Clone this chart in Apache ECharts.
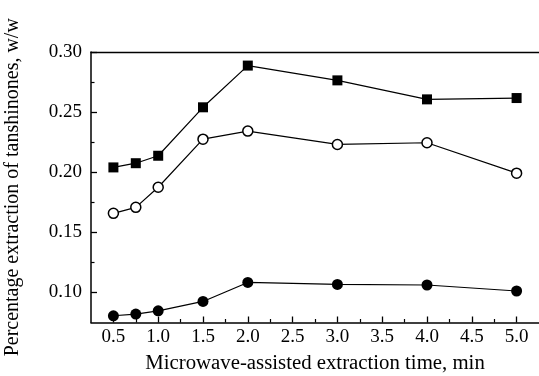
<!DOCTYPE html>
<html>
<head>
<meta charset="utf-8">
<script src="https://cdn.jsdelivr.net/npm/echarts@6/dist/echarts.min.js"></script>
<style>html,body{margin:0;padding:0;background:#fff}#c{width:539px;height:376px}</style>
</head>
<body>
<div id="c"></div>
<script>
// Data
const times = [0.5, 0.75, 1.0, 1.5, 2.0, 3.0, 4.0, 5.0];
const squares = [0.204, 0.2075, 0.2137, 0.254, 0.2887, 0.2764, 0.2606, 0.2617];
const openCircles = [0.1658, 0.1708, 0.1875, 0.2275, 0.2342, 0.2231, 0.2245, 0.1992];
const filledCircles = [0.0806, 0.082, 0.0847, 0.0925, 0.1083, 0.1067, 0.1062, 0.1012];
const xMajorTicks = [0.5, 1.0, 1.5, 2.0, 2.5, 3.0, 3.5, 4.0, 4.5, 5.0];
const xMinorTicks = [0.75, 1.25, 1.75, 2.25, 2.75, 3.25, 3.75, 4.25, 4.75];
const yMajorTicks = [0.10, 0.15, 0.20, 0.25, 0.30];
const yMinorTicks = [0.125, 0.175, 0.225, 0.275];
const xTitle = 'Microwave-assisted extraction time, min';
const yTitle = 'Percentage extraction of tanshinones, w/w';

const FONT = '"Liberation Serif", "DejaVu Serif", serif';
const pair = (xs, ys) => xs.map((x, i) => [x, ys[i]]);
const X_RANGE = {min: 0.25, max: 5.25};
const Y_RANGE = {min: 0.075, max: 0.30};
const gridBox = {left: 91, right: 0, top: 52, bottom: 53.5, containLabel: false, outerBoundsMode: 'none'};

const chart = echarts.init(document.getElementById('c'), null, {renderer: 'canvas'});
const lineStyle = {color: '#000', width: 1.2};
chart.setOption({
  animation: false,
  backgroundColor: '#fff',
  grid: [Object.assign({}, gridBox), Object.assign({}, gridBox)],
  xAxis: [
    {
      type: 'value', gridIndex: 0, ...X_RANGE, position: 'bottom',
      name: xTitle, nameLocation: 'middle', nameGap: 31,
      nameTextStyle: {fontFamily: FONT, fontSize: 20.8, color: '#000'},
      axisLine: {show: true, onZero: false, lineStyle: {color: '#000', width: 1.5}},
      axisTick: {show: true, inside: true, length: 6, customValues: xMajorTicks, lineStyle: {color: '#000', width: 1.3}},
      axisLabel: {customValues: xMajorTicks, formatter: v => v.toFixed(1), fontFamily: FONT, fontSize: 19, color: '#000', margin: 5},
      splitLine: {show: false}
    },
    {
      type: 'value', gridIndex: 0, ...X_RANGE, position: 'top',
      axisLine: {show: true, onZero: false, lineStyle: {color: '#000', width: 1.3}},
      axisTick: {show: false}, axisLabel: {show: false}, splitLine: {show: false}
    },
    {
      type: 'value', gridIndex: 1, ...X_RANGE, position: 'bottom',
      axisLine: {show: false, onZero: false},
      axisTick: {show: true, inside: true, length: 3.5, customValues: xMinorTicks, lineStyle: {color: '#000', width: 1.2}},
      axisLabel: {show: false},
      splitLine: {show: false}
    }
  ],
  yAxis: [
    {
      type: 'value', gridIndex: 0, ...Y_RANGE, position: 'left',
      name: yTitle, nameLocation: 'middle', nameGap: 68,
      nameTextStyle: {fontFamily: FONT, fontSize: 20, color: '#000'},
      axisLine: {show: true, onZero: false, lineStyle: {color: '#000', width: 1.5}},
      axisTick: {show: true, inside: true, length: 6, customValues: yMajorTicks, lineStyle: {color: '#000', width: 1.3}},
      axisLabel: {customValues: yMajorTicks, formatter: v => v.toFixed(2), fontFamily: FONT, fontSize: 19, color: '#000', margin: 9},
      splitLine: {show: false}
    },
    {
      type: 'value', gridIndex: 1, ...Y_RANGE, position: 'left',
      axisLine: {show: false, onZero: false},
      axisTick: {show: true, inside: true, length: 3.5, customValues: yMinorTicks, lineStyle: {color: '#000', width: 1.2}},
      axisLabel: {show: false}, splitLine: {show: false}
    }
  ],
  series: [
    {
      type: 'line', xAxisIndex: 0, yAxisIndex: 0, data: pair(times, squares), symbol: 'rect', symbolSize: 10,
      itemStyle: {color: '#000'}, lineStyle: lineStyle, z: 3
    },
    {
      type: 'line', xAxisIndex: 0, yAxisIndex: 0, data: pair(times, openCircles), symbol: 'circle', symbolSize: 10,
      itemStyle: {color: '#fff', borderColor: '#000', borderWidth: 1.5}, lineStyle: lineStyle, z: 3
    },
    {
      type: 'line', xAxisIndex: 0, yAxisIndex: 0, data: pair(times, filledCircles), symbol: 'circle', symbolSize: 11,
      itemStyle: {color: '#000'}, lineStyle: lineStyle, z: 3
    }
  ]
});
</script>
</body>
</html>
